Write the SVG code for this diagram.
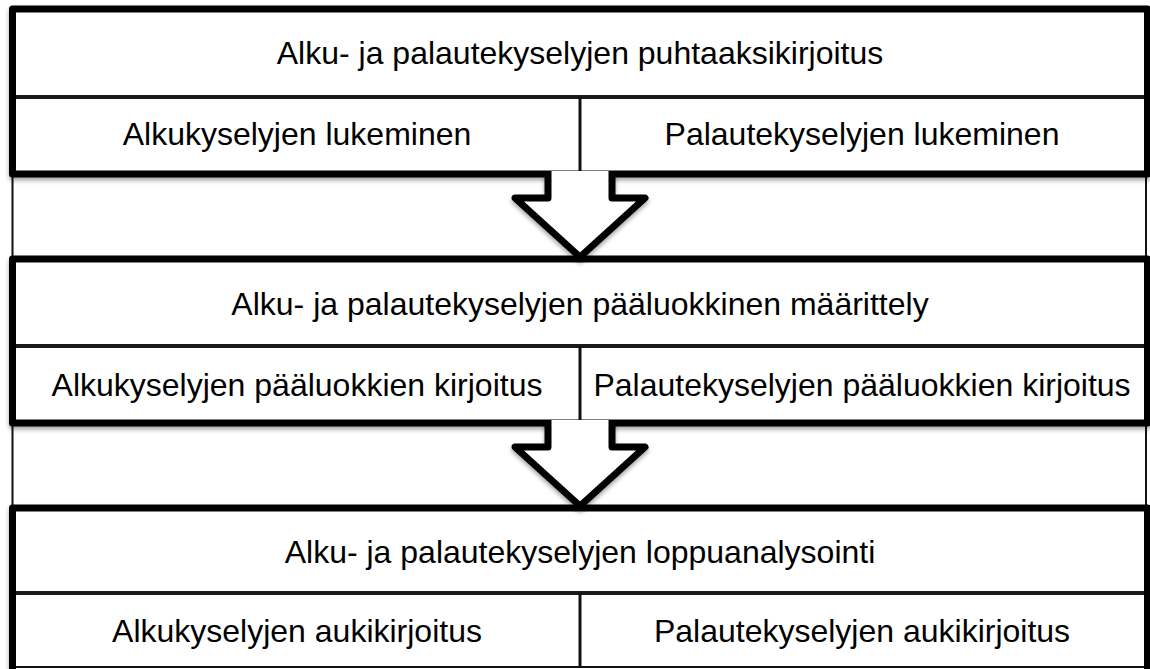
<svg xmlns="http://www.w3.org/2000/svg" width="1150" height="669" viewBox="0 0 1150 669">
  <defs>
    <filter id="sh" x="-5%" y="-5%" width="110%" height="120%">
      <feDropShadow dx="0" dy="3" stdDeviation="2" flood-color="#000" flood-opacity="0.35"/>
    </filter>
    <style>
      .box { fill: #fff; stroke: #000; stroke-width: 7; stroke-linejoin: round; }
      .thin { stroke: #111; stroke-width: 2; fill: none; }
      .hdiv { stroke: #1a1a1a; stroke-width: 4; }
      .vdiv { stroke: #111; stroke-width: 3; }
      .arrow { fill: #fff; stroke: #000; stroke-width: 7; stroke-linejoin: round; }
      text { font-family: "Liberation Sans", Arial, sans-serif; font-size: 32px; fill: #000; text-anchor: middle; }
    </style>
  </defs>

  <g id="table">
    <rect x="0" y="0" width="1150" height="669" fill="#fff"/>
    <line class="thin" x1="12.5" y1="9" x2="12.5" y2="667"/>
    <line class="thin" x1="1146" y1="9" x2="1146" y2="667"/>
    <line class="thin" x1="12.5" y1="667" x2="1146" y2="667"/>
  </g>

  <g id="box1">
    <rect class="box" x="12.5" y="9" width="1135" height="165" filter="url(#sh)"/>
    <line class="hdiv" x1="16" y1="97" x2="1144" y2="97"/>
    <line class="vdiv" x1="580" y1="97" x2="580" y2="171"/>
    <text x="580" y="64">Alku- ja palautekyselyjen puhtaaksikirjoitus</text>
    <text x="297" y="145">Alkukyselyjen lukeminen</text>
    <text x="862" y="145">Palautekyselyjen lukeminen</text>
  </g>

  <g id="box2">
    <rect class="box" x="12.5" y="259" width="1135" height="164" filter="url(#sh)"/>
    <line class="hdiv" x1="16" y1="346" x2="1144" y2="346"/>
    <line class="vdiv" x1="580" y1="346" x2="580" y2="420"/>
    <text x="580" y="315">Alku- ja palautekyselyjen pääluokkinen määrittely</text>
    <text x="297" y="396">Alkukyselyjen pääluokkien kirjoitus</text>
    <text x="862" y="396">Palautekyselyjen pääluokkien kirjoitus</text>
  </g>

  <g id="box3">
    <rect class="box" x="12.5" y="508" width="1135" height="166" filter="url(#sh)"/>
    <line class="hdiv" x1="16" y1="593" x2="1144" y2="593"/>
    <line class="vdiv" x1="580" y1="593" x2="580" y2="667"/>
    <line class="thin" x1="16" y1="667" x2="1144" y2="667"/>
    <text x="580" y="563">Alku- ja palautekyselyjen loppuanalysointi</text>
    <text x="297" y="642">Alkukyselyjen aukikirjoitus</text>
    <text x="862" y="642">Palautekyselyjen aukikirjoitus</text>
  </g>

  <g id="connectors">
    <path class="arrow" filter="url(#sh)" d="M548,171 V198 H515 L580,257 L645,198 H612 V171"/>
    <path class="arrow" filter="url(#sh)" d="M548,420 V447 H515 L580,506 L645,447 H612 V420"/>
  </g>
</svg>
